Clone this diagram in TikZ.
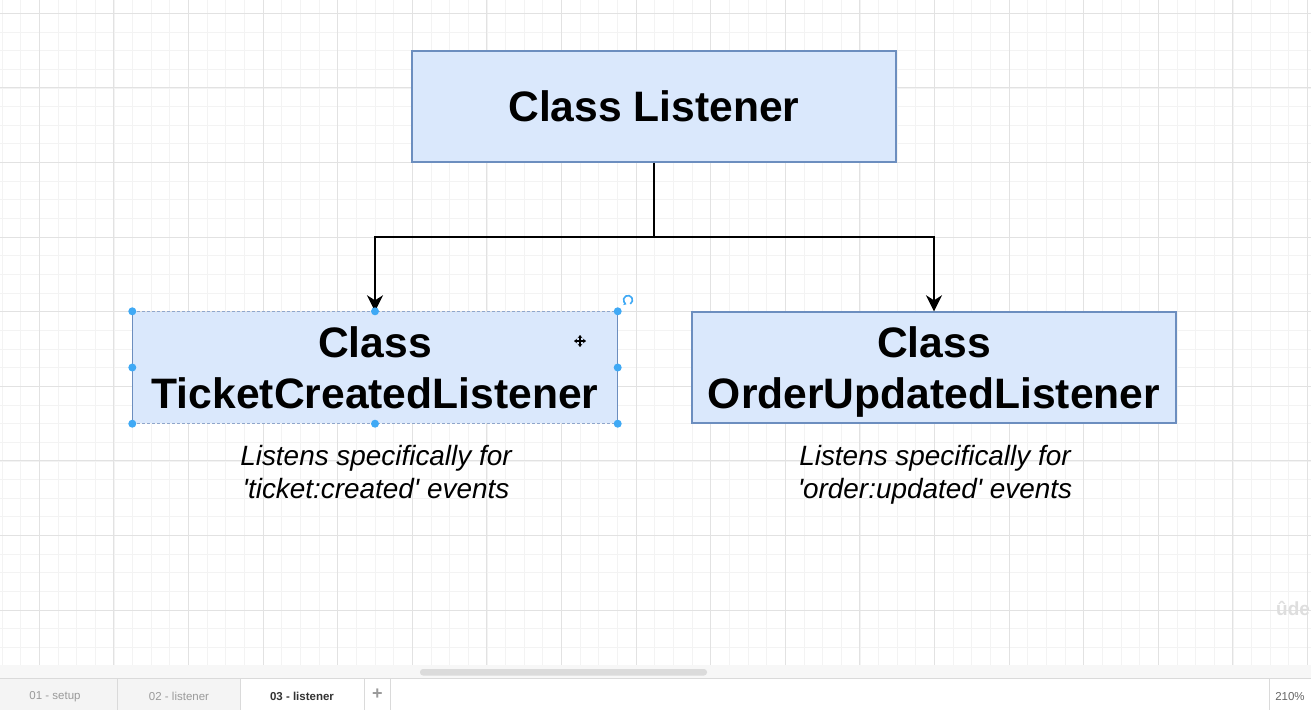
\documentclass[tikz,border=0pt]{standalone}
\usepackage{fontspec}
\setmainfont{Liberation Sans}[Ligatures=TeXOff]
\usetikzlibrary{arrows.meta}

\definecolor{boxfill}{HTML}{DAE8FC}
\definecolor{boxline}{HTML}{6C8EBF}
\definecolor{selline}{HTML}{8FA6CC}
\definecolor{handle}{HTML}{3FA9F5}
\definecolor{gridminor}{HTML}{F3F3F3}
\definecolor{gridmajor}{HTML}{E2E2E2}
\definecolor{tabbg}{HTML}{F4F4F4}
\definecolor{tabline}{HTML}{DADADA}
\definecolor{tabtext}{HTML}{9A9A9A}

% a line set with no depth, so descenders do not move the block
\newcommand{\flatline}[1]{\raisebox{0pt}[\height][0pt]{#1}}

\tikzset{
  classbox/.style={draw=boxline, fill=boxfill, line width=1.4pt, minimum width=484pt,
    minimum height=111pt, align=center, inner sep=0pt,
    font=\fontsize{42.6}{51}\selectfont\bfseries},
  note/.style={align=center, inner sep=0pt, font=\fontsize{27.9}{33}\selectfont\itshape},
  conn/.style={line width=2pt, black},
  connarrow/.style={conn, -{Stealth[length=16pt, width=16pt, inset=5pt]}},
  handledot/.style={circle, fill=handle, inner sep=0pt, minimum size=8pt},
  tablabel/.style={font=\fontsize{11.5}{13}\selectfont, text=tabtext, inner sep=0pt},
}

\begin{document}
\begin{tikzpicture}[x=1pt, y=-1pt]
\useasboundingbox (0,0) rectangle (1311,710);
\fill[white] (0,0) rectangle (1311,710);

% canvas grid
\begin{scope}
\clip (0,0) rectangle (1311,665);
\foreach \i in {-2,...,70} \draw[gridminor, line width=0.8pt] (39.3+18.65*\i,0) -- ++(0,665);
\foreach \j in {0,...,35} \draw[gridminor, line width=0.8pt] (0,13.3+18.65*\j) -- ++(1311,0);
\foreach \i in {0,...,17} \draw[gridmajor, line width=0.9pt] (39.3+74.6*\i,0) -- ++(0,665);
\foreach \j in {0,...,8} \draw[gridmajor, line width=0.9pt] (0,13.3+74.6*\j) -- ++(1311,0);
% watermark at the right edge
\node[anchor=west, inner sep=0pt, text=black!13, font=\fontsize{19}{20}\selectfont\bfseries]
  (mark) at (1276,610) {ûdemy};
\end{scope}

% class boxes
\node[classbox] (listener) at (654,106.5) {Class Listener};
\node[classbox, draw=none] (ticket) at (375,367.5) {Class\\TicketCreatedListener};
\node[classbox] (order) at (934,367.5) {Class\\\flatline{OrderUpdatedListener}};

% selection frame of the left box
\draw[boxline, line width=1.4pt] (ticket.north west) -- (ticket.south west);
\draw[boxline, line width=1.4pt] (ticket.north east) -- (ticket.south east);
\draw[selline, line width=1.4pt, dash pattern=on 3pt off 2pt] (ticket.north west) -- (ticket.north east);
\draw[selline, line width=1.4pt, dash pattern=on 3pt off 2pt] (ticket.south west) -- (ticket.south east);

% notes
\node[note] (ticketnote) at (376,472) {Listens specifically for\\'ticket:created' events};
\node[note] (ordernote) at (935,472) {Listens specifically for\\\flatline{'order:updated' events}};

% connectors
\coordinate (split) at (654,237);
\draw[conn] (listener.south) -- (split);
\draw[connarrow] (split) -| (ticket.north);
\draw[connarrow] (split) -| (order.north);

% selection handles
\foreach \a in {north west, north, north east, west, east, south west, south, south east}
  \node[handledot] at (ticket.\a) {};
% rotate handle
\draw[handle, line width=1.6pt, -{Stealth[length=3pt,width=4pt]}] (628,300) ++(60:4.5) arc (60:-250:4.5);
% move cursor
\begin{scope}[shift={(580,341)}]
  \draw[black, line width=1.3pt, {Stealth[length=3pt,width=4.5pt]}-{Stealth[length=3pt,width=4.5pt]}] (-6,0) -- (6,0);
  \draw[black, line width=1.3pt, {Stealth[length=3pt,width=4.5pt]}-{Stealth[length=3pt,width=4.5pt]}] (0,-6) -- (0,6);
\end{scope}

% scroll bar band
\fill[white!97!black] (0,665) rectangle (1311,678);
\fill[black!14, rounded corners=3pt] (420,669) rectangle (707,675.5);
\draw[tabline, line width=1pt] (0,678.5) -- (1311,678.5);

% page tabs
\fill[tabbg] (0,679) rectangle (240,710);
\draw[tabline, line width=0.8pt] (117.5,679) -- (117.5,710);
\draw[tabline, line width=0.8pt] (240.5,679) -- (240.5,710);
\draw[tabline, line width=0.8pt] (364.5,679) -- (364.5,710);
\draw[tabline, line width=0.8pt] (390.5,679) -- (390.5,710);
\draw[tabline, line width=0.8pt] (1269.5,679) -- (1269.5,710);
\node[tablabel] (tab1) at (55,696.5) {01 - setup};
\node[tablabel] (tab2) at (179,696.5) {02 - listener};
\node[tablabel, text=black!80, font=\fontsize{11.5}{13}\selectfont\bfseries] (tab3) at (302,696.5) {03 - listener};
\node[tablabel, font=\fontsize{18}{18}\selectfont\bfseries] (addtab) at (377.5,694.5) {+};
\node[tablabel, text=black!60] (zoom) at (1290,696.5) {210\%};
\end{tikzpicture}
\end{document}
